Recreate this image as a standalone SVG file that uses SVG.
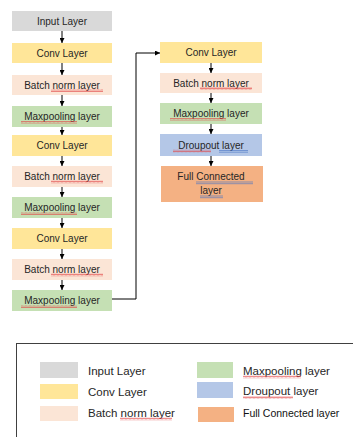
<svg xmlns="http://www.w3.org/2000/svg" width="353" height="437" viewBox="0 0 353 437">
<style>
text{font-family:"Liberation Sans","DejaVu Sans",sans-serif;font-size:10px;fill:#262626;text-anchor:middle}
.lg{text-anchor:start;font-size:11.5px}
.lf{text-anchor:start;font-size:10.5px;fill:#111}
.in{fill:#d9d9d9}.cv{fill:#ffe699}.bn{fill:#fbe5d6}.mp{fill:#c5e0b4}.dr{fill:#b4c7e7}.fc{fill:#f4b183}
.c{stroke:#000;stroke-width:1;fill:none}
.sq{fill:none;stroke:#e04040;stroke-width:0.6}
.bl{stroke:#4472c4;stroke-width:0.6}
</style>
<defs>
<marker id="ah" viewBox="0 0 8 8" refX="8" refY="4" markerWidth="5" markerHeight="5" orient="auto" markerUnits="userSpaceOnUse">
<path d="M0,0 L8,4 L0,8 z" fill="#000"/>
</marker>
<pattern id="wave" width="4" height="3" patternUnits="userSpaceOnUse">
<path d="M0,2.5 L1,0.5 L2,2.5 L3,0.5 L4,2.5" class="sq"/>
</pattern>
</defs>
<g id="connectors">
<line class="c" x1="62" y1="31" x2="62" y2="43" marker-end="url(#ah)"/>
<line class="c" x1="62" y1="63" x2="62" y2="75" marker-end="url(#ah)"/>
<line class="c" x1="62" y1="95" x2="62" y2="106" marker-end="url(#ah)"/>
<line class="c" x1="62" y1="127" x2="62" y2="135" marker-end="url(#ah)"/>
<line class="c" x1="62" y1="156" x2="62" y2="166" marker-end="url(#ah)"/>
<line class="c" x1="62" y1="187" x2="62" y2="197" marker-end="url(#ah)"/>
<line class="c" x1="62" y1="218" x2="62" y2="228" marker-end="url(#ah)"/>
<line class="c" x1="62" y1="249" x2="62" y2="259" marker-end="url(#ah)"/>
<line class="c" x1="62" y1="280" x2="62" y2="290" marker-end="url(#ah)"/>
<polyline class="c" points="112,299 136,299 136,53 160,53" marker-end="url(#ah)"/>
<line class="c" x1="211" y1="63" x2="211" y2="73" marker-end="url(#ah)"/>
<line class="c" x1="211" y1="93" x2="211" y2="103" marker-end="url(#ah)"/>
<line class="c" x1="211" y1="124" x2="211" y2="134" marker-end="url(#ah)"/>
<line class="c" x1="211" y1="156" x2="211" y2="166" marker-end="url(#ah)"/>
</g>
<g id="n1"><rect class="in" x="12" y="11" width="100" height="20"/><text x="62" y="24.5">Input Layer</text></g>
<g id="n2"><rect class="cv" x="12" y="43" width="100" height="20"/><text x="62" y="56.5">Conv Layer</text></g>
<g id="n3"><rect class="bn" x="12" y="75" width="100" height="20"/><text x="62" y="88.5">Batch norm layer</text><rect x="51" y="89" width="52" height="3" fill="url(#wave)"/></g>
<g id="n4"><rect class="mp" x="12" y="106" width="100" height="21"/><text x="62" y="120">Maxpooling layer</text><rect x="21" y="121" width="56" height="3" fill="url(#wave)"/></g>
<g id="n5"><rect class="cv" x="12" y="135" width="100" height="21"/><text x="62" y="149">Conv Layer</text></g>
<g id="n6"><rect class="bn" x="12" y="166" width="100" height="21"/><text x="62" y="180">Batch norm layer</text><rect x="51" y="180.5" width="52" height="3" fill="url(#wave)"/></g>
<g id="n7"><rect class="mp" x="12" y="197" width="100" height="21"/><text x="62" y="211">Maxpooling layer</text><rect x="21" y="212" width="56" height="3" fill="url(#wave)"/></g>
<g id="n8"><rect class="cv" x="12" y="228" width="100" height="21"/><text x="62" y="242">Conv Layer</text></g>
<g id="n9"><rect class="bn" x="12" y="259" width="100" height="21"/><text x="62" y="273">Batch norm layer</text><rect x="51" y="273.5" width="52" height="3" fill="url(#wave)"/></g>
<g id="n10"><rect class="mp" x="12" y="290" width="100" height="21"/><text x="62" y="304">Maxpooling layer</text><rect x="21" y="305" width="56" height="3" fill="url(#wave)"/></g>
<g id="n11"><rect class="cv" x="160" y="42" width="102" height="21"/><text x="211" y="56">Conv Layer</text></g>
<g id="n12"><rect class="bn" x="160" y="73" width="102" height="20"/><text x="211" y="86.5">Batch norm layer</text><rect x="200" y="87" width="52" height="3" fill="url(#wave)"/></g>
<g id="n13"><rect class="mp" x="160" y="103" width="102" height="21"/><text x="211" y="117">Maxpooling layer</text><rect x="170" y="118" width="56" height="3" fill="url(#wave)"/></g>
<g id="n14"><rect class="dr" x="160" y="134" width="102" height="22"/><text x="211" y="148.5">Droupout  layer</text><rect x="173" y="149.5" width="38" height="3" fill="url(#wave)"/><line class="bl" x1="219" y1="150.5" x2="248" y2="150.5"/><line class="bl" x1="219" y1="152.2" x2="248" y2="152.2"/></g>
<g id="n15"><rect class="fc" x="161" y="166" width="102" height="36"/><text x="211" y="180">Full Connected</text><text x="211" y="194">layer</text><line class="bl" x1="196" y1="182" x2="253" y2="182"/><line class="bl" x1="196" y1="183.7" x2="253" y2="183.7"/><line class="bl" x1="200" y1="196" x2="223" y2="196"/><line class="bl" x1="200" y1="197.7" x2="223" y2="197.7"/></g>
<g id="legend">
<rect x="16.5" y="343.5" width="345" height="100" fill="none" stroke="#404040" stroke-width="1"/>
<rect class="in" x="40" y="362" width="38" height="16"/><text class="lg" x="88" y="374.5">Input Layer</text>
<rect class="cv" x="40" y="384" width="38" height="15"/><text class="lg" x="88" y="395.5">Conv Layer</text>
<rect class="bn" x="40" y="406" width="38" height="15"/><text class="lg" x="88" y="416.5">Batch norm layer</text><rect x="120" y="417.5" width="52" height="3" fill="url(#wave)"/>
<rect class="mp" x="197" y="362" width="36" height="16"/><text class="lg" x="243" y="374.5">Maxpooling layer</text><rect x="243" y="375.5" width="58" height="3" fill="url(#wave)"/>
<rect class="dr" x="197" y="382" width="36" height="16"/><text class="lg" x="243" y="395">Droupout layer</text><rect x="243" y="396" width="50" height="3" fill="url(#wave)"/>
<rect class="fc" x="198" y="407" width="36" height="15"/><text class="lf" x="243" y="417">Full Connected layer</text>
</g>
</svg>
